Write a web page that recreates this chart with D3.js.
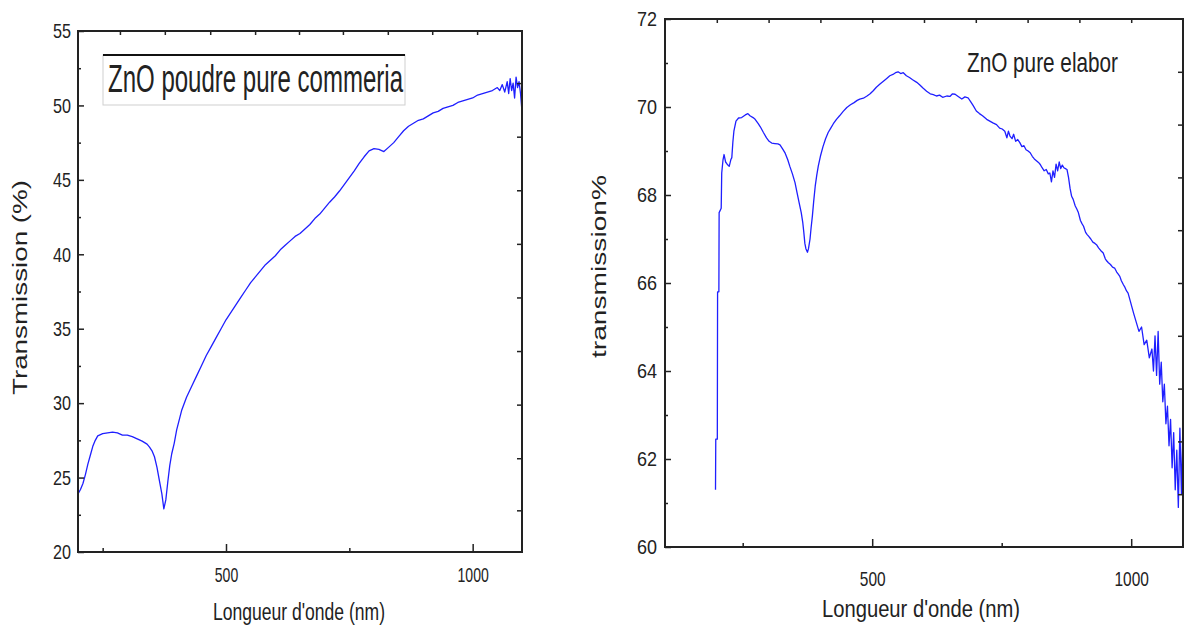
<!DOCTYPE html>
<html>
<head>
<meta charset="utf-8">
<script src="https://cdn.jsdelivr.net/npm/d3@7"></script>
<style>
  body { margin: 0; background: #fff; }
  svg { display: block; }
</style>
</head>
<body>
<svg width="1187" height="633"></svg>
<script>
// ---- data ----
// left panel: commercial ZnO powder, [wavelength nm, transmission %]
const powderCurve = [
  [200, 23.9], [205, 24.2], [210, 24.6], [215, 25.2], [220, 25.9], [225, 26.5], [230, 27.1],
  [235, 27.5], [240, 27.8], [250, 27.95], [260, 28.0], [270, 28.05], [280, 28.0], [290, 27.85],
  [300, 27.85], [310, 27.75], [320, 27.6], [330, 27.45], [340, 27.25], [345, 27.05], [350, 26.8],
  [355, 26.4], [360, 25.7], [365, 24.8], [370, 23.9], [374, 22.9], [378, 23.5], [382, 24.7],
  [386, 25.8], [390, 26.6], [395, 27.3], [400, 28.2], [410, 29.5], [420, 30.4], [430, 31.1],
  [440, 31.8], [450, 32.5], [460, 33.2], [470, 33.8], [480, 34.4], [490, 35.0], [500, 35.6],
  [510, 36.1], [520, 36.6], [530, 37.1], [540, 37.6], [550, 38.1], [560, 38.5], [570, 38.9],
  [580, 39.3], [590, 39.6], [600, 39.9], [610, 40.3], [620, 40.6], [630, 40.9], [640, 41.2],
  [650, 41.4], [660, 41.7], [670, 42.0], [680, 42.4], [690, 42.7], [700, 43.1], [710, 43.5],
  [720, 43.85], [730, 44.25], [740, 44.7], [750, 45.15], [760, 45.6], [770, 46.1], [780, 46.55],
  [790, 46.95], [800, 47.1], [810, 47.05], [820, 46.9], [830, 47.2], [840, 47.5], [850, 47.9],
  [860, 48.3], [870, 48.6], [880, 48.8], [890, 49.0], [900, 49.1], [910, 49.3], [920, 49.5],
  [930, 49.6], [940, 49.8], [950, 49.9], [960, 50.0], [970, 50.2], [980, 50.3], [990, 50.4],
  [1000, 50.5], [1010, 50.7], [1020, 50.8], [1030, 50.9], [1040, 51.0], [1050, 51.2],
  [1055, 51.0], [1060, 51.4], [1065, 50.9], [1070, 51.6], [1073, 50.8], [1076, 51.8],
  [1079, 51.0], [1082, 51.5], [1085, 50.5], [1088, 51.9], [1091, 51.2], [1094, 51.6],
  [1097, 50.8], [1100, 49.6]
];

// right panel: elaborated ZnO, [wavelength nm, transmission %]
const elabCurve = [
  [197.5, 61.3], [198, 62.45], [201, 62.45], [201.5, 65.8], [204, 65.8], [204.5, 67.6],
  [208.5, 67.7], [209.5, 68.5], [212, 68.8], [214, 68.92], [217, 68.75], [220, 68.7],
  [224, 68.65], [227, 68.8], [229, 68.85], [231, 69.2], [233, 69.45], [237, 69.68],
  [242, 69.75], [248, 69.76], [255, 69.82], [260, 69.85], [264, 69.8], [270, 69.76],
  [274, 69.72], [280, 69.62], [284, 69.55], [290, 69.42], [296, 69.3], [301, 69.22],
  [306, 69.18], [312, 69.17], [318, 69.16], [322, 69.14], [327, 69.05], [332, 68.95],
  [337, 68.8], [341, 68.65], [346, 68.48], [351, 68.28], [355, 68.05], [359, 67.82],
  [363, 67.6], [366, 67.37], [368, 67.15], [370, 66.9], [372, 66.78], [375, 66.7],
  [377, 66.78], [380, 67.0], [382, 67.25], [384.5, 67.52], [387, 67.85], [390, 68.2],
  [393, 68.45], [396, 68.66], [400, 68.88], [405, 69.1], [410, 69.28], [415, 69.42],
  [420, 69.52], [425, 69.62], [431, 69.72], [437, 69.8], [444, 69.9], [451, 69.99],
  [458, 70.05], [465, 70.1], [471, 70.15], [476, 70.18], [483, 70.2], [490, 70.25],
  [496, 70.3], [502, 70.37], [508, 70.45], [515, 70.52], [521, 70.58], [528, 70.65],
  [534, 70.71], [540, 70.74], [545, 70.78], [550, 70.8], [555, 70.76], [560, 70.78],
  [566, 70.71], [572, 70.67], [578, 70.62], [586, 70.56], [592, 70.5], [598, 70.43],
  [605, 70.36], [612, 70.3], [618, 70.28], [624, 70.25], [630, 70.27], [636, 70.22],
  [644, 70.25], [650, 70.24], [655, 70.3], [660, 70.29], [666, 70.24], [673, 70.18],
  [679, 70.23], [685, 70.21], [690, 70.12], [695, 70.03], [701, 69.91], [707, 69.85],
  [713, 69.8], [721, 69.72], [727, 69.68], [733, 69.64], [740, 69.6], [746, 69.52],
  [751, 69.5], [756, 69.45], [760, 69.3], [763, 69.45], [766, 69.34], [770, 69.28],
  [773, 69.38], [777, 69.22], [781, 69.26], [785, 69.19], [789, 69.1], [793, 69.12],
  [797, 69.03], [801, 69.0], [805, 68.96], [809, 68.88], [813, 68.82], [817, 68.78],
  [821, 68.74], [824, 68.7], [828, 68.62], [832, 68.55], [836, 68.58], [840, 68.48],
  [843, 68.5], [846, 68.3], [849, 68.55], [852, 68.4], [855, 68.7], [858, 68.55],
  [861, 68.75], [864, 68.6], [867, 68.68], [870, 68.62], [873, 68.6], [876, 68.58],
  [879, 68.4], [882, 68.15], [885, 67.97], [888, 67.9], [892, 67.75], [895, 67.68],
  [898, 67.6], [902, 67.42], [905, 67.35], [908, 67.29], [912, 67.15], [915, 67.1],
  [918, 67.06], [922, 67.0], [926, 66.93], [930, 66.9], [933, 66.87], [937, 66.8],
  [941, 66.74], [946, 66.68], [950, 66.55], [953, 66.5], [956, 66.46], [960, 66.42],
  [964, 66.36], [968, 66.34], [972, 66.25], [975, 66.2], [978, 66.15], [981, 66.05],
  [985, 65.96], [988, 65.9], [991, 65.82], [994, 65.77], [998, 65.6], [1001, 65.47],
  [1005, 65.3], [1010, 65.1], [1015, 64.9], [1020, 65.0], [1025, 64.6], [1030, 64.7],
  [1035, 64.3], [1040, 64.5], [1043, 64.0], [1046, 64.8], [1049, 63.9], [1052, 64.9],
  [1055, 63.7], [1058, 64.2], [1061, 63.3], [1064, 63.7], [1067, 62.8], [1070, 63.2],
  [1073, 62.3], [1076, 62.9], [1079, 61.8], [1082, 62.6], [1085, 61.3], [1088, 62.2],
  [1091, 60.9], [1094, 62.7], [1097, 61.2], [1100, 62.9]
];

// tick values
const powderXMajor = [500, 1000];
const powderXMinor = [250, 750];
const powderYMajor = [20, 25, 30, 35, 40, 45, 50, 55];
const powderYMinor = [22.5, 27.5, 32.5, 37.5, 42.5, 47.5, 52.5];
const powderTopTicks = [285, 376, 468, 559, 648, 737, 828, 918, 1009];
const powderRightTicks = [22.8, 26.3, 29.9, 33.5, 37.1, 40.7, 44.3, 47.9, 51.5];

const elabXMajor = [500, 1000];
const elabXMinor = [250, 750];
const elabYMajor = [60, 62, 64, 66, 68, 70, 72];
const elabYMinor = [61, 63, 65, 67, 69, 71];
const elabTopTicks = [200, 300, 400, 500, 600, 700, 800, 900, 1000];
const elabRightTicks = [61.2, 62.4, 63.6, 64.8, 66.0, 67.2, 68.4, 69.6, 70.8];

const xTitle = "Longueur d'onde (nm)";

// ---- drawing ----
const FONT = "'Liberation Sans', Arial, sans-serif";
const svg = d3.select("svg");
const fmt = d3.format("d");

const panels = [
  {
    id: "a", x0: 78, x1: 522, y0: 31, y1: 552,
    xDomain: [200, 1100], yDomain: [20, 55], data: powderCurve,
    xMajor: powderXMajor, xMinor: powderXMinor, yMajor: powderYMajor, yMinor: powderYMinor,
    topTicks: powderTopTicks, rightTicks: powderRightTicks,
    xLabelY: 30, xDigitW: 7.8, yLabelGap: 7, yDigitW: 9,
    xTitle: { x: 299, y: 620, len: 172 },
    yTitle: { text: "Transmission (%)", x: 27, y: 287.5, len: 215 }
  },
  {
    id: "b", x0: 665, x1: 1183, y0: 19, y1: 547,
    xDomain: [100, 1100], yDomain: [60, 72], data: elabCurve,
    xMajor: elabXMajor, xMinor: elabXMinor, yMajor: elabYMajor, yMinor: elabYMinor,
    topTicks: elabTopTicks, rightTicks: elabRightTicks,
    xLabelY: 39, xDigitW: 8.6, yLabelGap: 8, yDigitW: 10,
    xTitle: { x: 921, y: 617, len: 198 },
    yTitle: { text: "transmission%", x: 606, y: 266.5, len: 183 }
  }
];

function styleTicks(sel) {
  sel.select(".domain").remove();
  sel.selectAll(".tick line").attr("stroke", "#222").attr("stroke-width", 1.5);
}

panels.forEach(p => {
  const x = d3.scaleLinear().domain(p.xDomain).range([p.x0, p.x1]);
  const y = d3.scaleLinear().domain(p.yDomain).range([p.y1, p.y0]);

  svg.append("clipPath").attr("id", "clip-" + p.id)
    .append("rect")
    .attr("x", p.x0).attr("y", p.y0)
    .attr("width", p.x1 - p.x0).attr("height", p.y1 - p.y0);

  // curve
  svg.append("path")
    .datum(p.data)
    .attr("clip-path", `url(#clip-${p.id})`)
    .attr("fill", "none")
    .attr("stroke", "#1f1fff")
    .attr("stroke-width", 1.3)
    .attr("stroke-linejoin", "round")
    .attr("d", d3.line().x(d => x(d[0])).y(d => y(d[1])));

  // bottom axis (ticks point inward)
  const bottom = svg.append("g")
    .attr("transform", `translate(0,${p.y1})`)
    .call(d3.axisBottom(x).tickValues(p.xMajor).tickFormat(fmt).tickSize(-8).tickSizeOuter(0))
    .call(styleTicks);
  bottom.selectAll("text")
    .attr("y", p.xLabelY).attr("dy", null)
    .attr("font-size", 21).attr("font-family", FONT).attr("fill", "#222")
    .attr("textLength", d => fmt(d).length * p.xDigitW)
    .attr("lengthAdjust", "spacingAndGlyphs");
  svg.append("g")
    .attr("transform", `translate(0,${p.y1})`)
    .call(d3.axisBottom(x).tickValues(p.xMinor).tickSize(-4).tickSizeOuter(0).tickFormat(""))
    .call(styleTicks);

  // left axis
  const left = svg.append("g")
    .attr("transform", `translate(${p.x0},0)`)
    .call(d3.axisLeft(y).tickValues(p.yMajor).tickFormat(fmt).tickSize(-6).tickSizeOuter(0))
    .call(styleTicks);
  left.selectAll("text")
    .attr("x", -p.yLabelGap)
    .attr("font-size", 21).attr("font-family", FONT).attr("fill", "#222")
    .attr("textLength", d => fmt(d).length * p.yDigitW)
    .attr("lengthAdjust", "spacingAndGlyphs");
  svg.append("g")
    .attr("transform", `translate(${p.x0},0)`)
    .call(d3.axisLeft(y).tickValues(p.yMinor).tickSize(-3).tickSizeOuter(0).tickFormat(""))
    .call(styleTicks);

  // top and right mirror ticks
  svg.append("g")
    .attr("transform", `translate(0,${p.y0})`)
    .call(d3.axisTop(x).tickValues(p.topTicks).tickSize(-4).tickSizeOuter(0).tickFormat(""))
    .call(styleTicks);
  svg.append("g")
    .attr("transform", `translate(${p.x1},0)`)
    .call(d3.axisRight(y).tickValues(p.rightTicks).tickSize(-5).tickSizeOuter(0).tickFormat(""))
    .call(styleTicks);

  // frame
  svg.append("rect")
    .attr("x", p.x0).attr("y", p.y0)
    .attr("width", p.x1 - p.x0).attr("height", p.y1 - p.y0)
    .attr("fill", "none").attr("stroke", "#222").attr("stroke-width", 2);

  // axis titles
  svg.append("text")
    .attr("x", p.xTitle.x).attr("y", p.xTitle.y)
    .attr("text-anchor", "middle")
    .attr("font-family", FONT).attr("font-size", 23).attr("fill", "#222")
    .attr("textLength", p.xTitle.len).attr("lengthAdjust", "spacingAndGlyphs")
    .text(xTitle);

  svg.append("text")
    .attr("transform", `translate(${p.yTitle.x},${p.yTitle.y}) rotate(-90)`)
    .attr("text-anchor", "middle")
    .attr("font-family", FONT).attr("font-size", 20).attr("fill", "#222")
    .attr("textLength", p.yTitle.len).attr("lengthAdjust", "spacingAndGlyphs")
    .text(p.yTitle.text);
});

// legend box, left panel
const legend = svg.append("g");
legend.append("rect")
  .attr("x", 103).attr("y", 55).attr("width", 302).attr("height", 50)
  .attr("fill", "#fff").attr("stroke", "#cfcfcf").attr("stroke-width", 1);
legend.append("line")
  .attr("x1", 103).attr("x2", 405).attr("y1", 55).attr("y2", 55)
  .attr("stroke", "#111").attr("stroke-width", 2);
legend.append("text")
  .attr("x", 108).attr("y", 92)
  .attr("font-family", FONT).attr("font-size", 38).attr("fill", "#222")
  .attr("textLength", 295).attr("lengthAdjust", "spacingAndGlyphs")
  .text("ZnO poudre pure commeria");

// label, right panel
svg.append("text")
  .attr("x", 967).attr("y", 72)
  .attr("font-family", FONT).attr("font-size", 28).attr("fill", "#222")
  .attr("textLength", 151).attr("lengthAdjust", "spacingAndGlyphs")
  .text("ZnO pure elabor");
</script>
</body>
</html>
